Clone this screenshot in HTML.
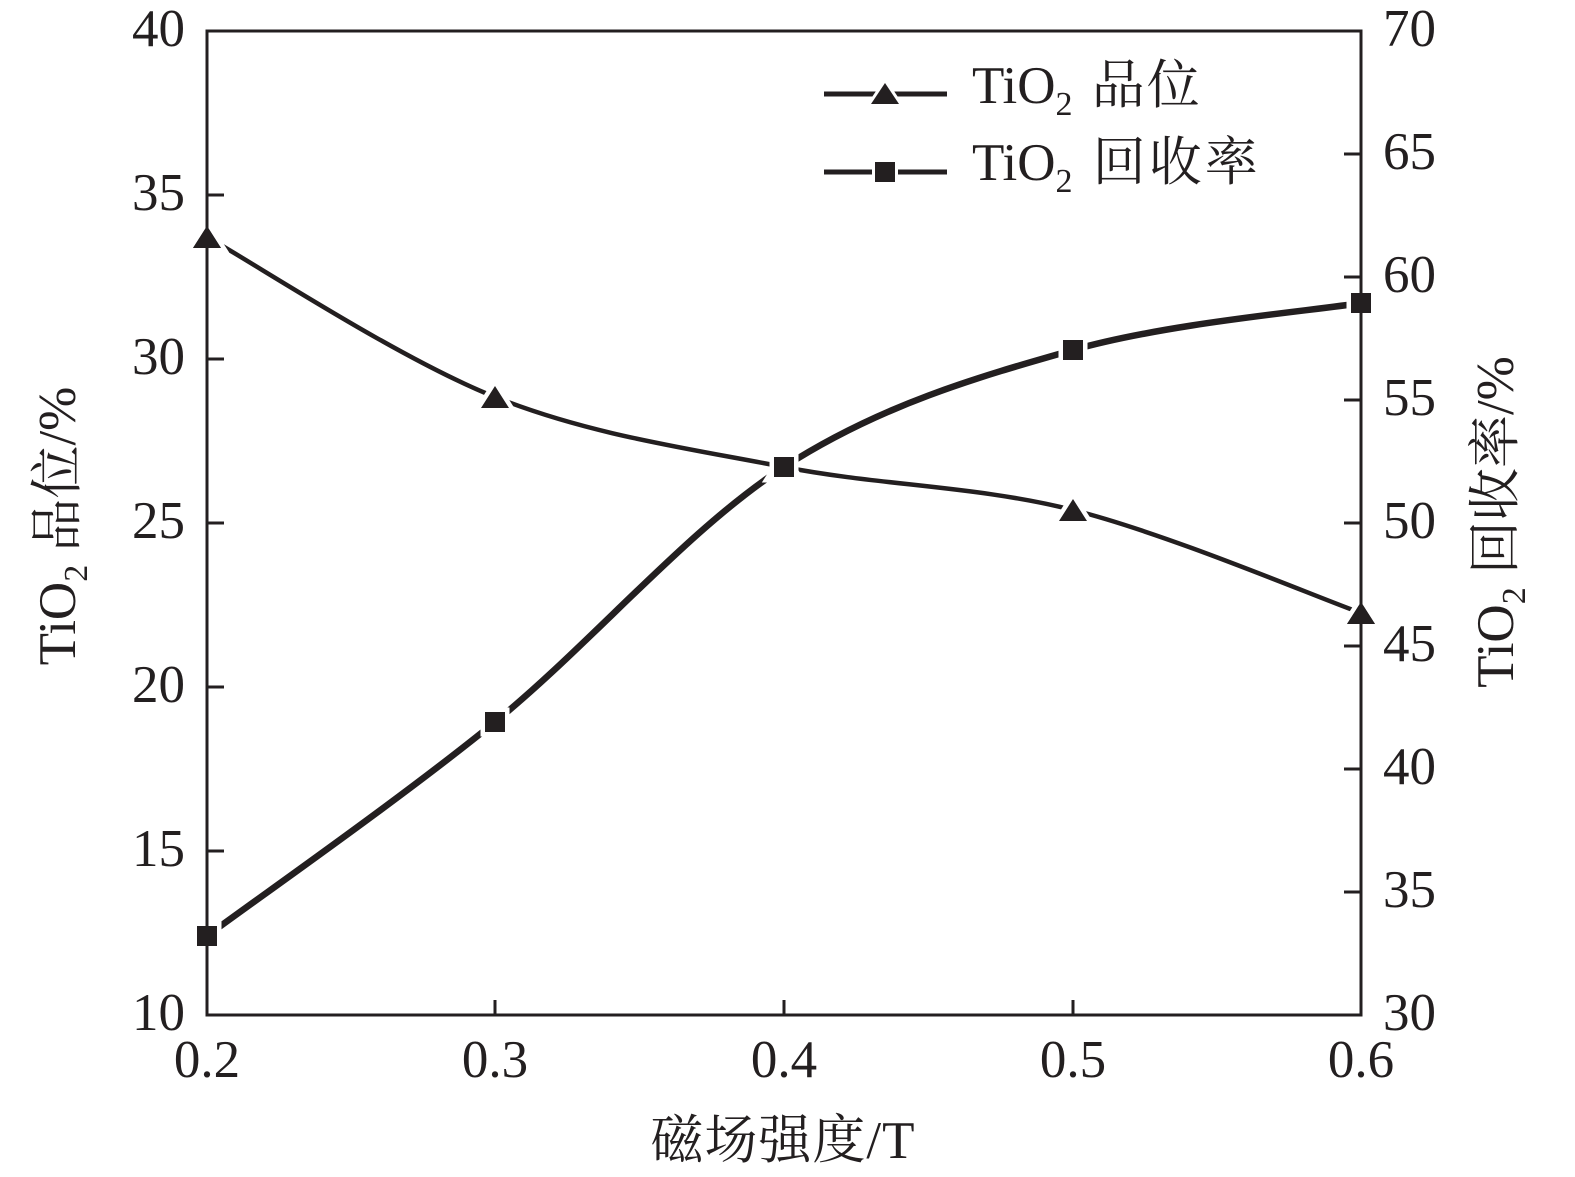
<!DOCTYPE html>
<html>
<head>
<meta charset="utf-8">
<style>
  html,body{margin:0;padding:0;background:#fff;}
  svg{display:block;}
  text{font-family:"Liberation Serif","Noto Serif CJK SC","Noto Sans CJK SC",serif;fill:#231f20;}
</style>
</head>
<body>
<svg width="1575" height="1177" viewBox="0 0 1575 1177" xmlns="http://www.w3.org/2000/svg">
  <rect x="0" y="0" width="1575" height="1177" fill="#fff"/>

  <!-- series curves -->
  <path d="M207,237 C255,263.7 398.8,358.7 495,397 C591.2,435.3 687.7,448.2 784,467 C880.3,485.8 976.8,485.7 1073,510 C1169.2,534.3 1313,595.8 1361,613"
        fill="none" stroke="#231f20" stroke-width="4.5"/>
  <path d="M207,936 C255,900.3 398.8,800.2 495,722 C591.2,643.8 687.7,529 784,467 C880.3,405 976.8,377.3 1073,350 C1169.2,322.7 1313,310.8 1361,303"
        fill="none" stroke="#231f20" stroke-width="6.5"/>

  <!-- axes box -->
  <rect x="207" y="31" width="1154" height="984" fill="none" stroke="#231f20" stroke-width="3"/>

  <g stroke="#231f20" stroke-width="3">
    <line x1="207" y1="195" x2="224" y2="195"/>
    <line x1="207" y1="359" x2="224" y2="359"/>
    <line x1="207" y1="523" x2="224" y2="523"/>
    <line x1="207" y1="687" x2="224" y2="687"/>
    <line x1="207" y1="851" x2="224" y2="851"/>
    <line x1="1344" y1="154" x2="1361" y2="154"/>
    <line x1="1344" y1="277" x2="1361" y2="277"/>
    <line x1="1344" y1="400" x2="1361" y2="400"/>
    <line x1="1344" y1="523" x2="1361" y2="523"/>
    <line x1="1344" y1="646" x2="1361" y2="646"/>
    <line x1="1344" y1="769" x2="1361" y2="769"/>
    <line x1="1344" y1="892" x2="1361" y2="892"/>
    <line x1="495" y1="1000" x2="495" y2="1015"/>
    <line x1="784" y1="1000" x2="784" y2="1015"/>
    <line x1="1073" y1="1000" x2="1073" y2="1015"/>
  </g>

  <g fill="#231f20" stroke="#fff" stroke-width="9" stroke-linejoin="miter" paint-order="stroke">
    <polygon points="207,226 221,248 193,248"/>
    <polygon points="495,386 509,408 481,408"/>
    <polygon points="784,456 798,478 770,478"/>
    <polygon points="1073,499 1087,521 1059,521"/>
    <polygon points="1361,602 1375,624 1347,624"/>
  </g>
  <g fill="#231f20" stroke="#fff" stroke-width="9" paint-order="stroke">
    <rect x="197" y="926" width="20" height="20"/>
    <rect x="485" y="712" width="20" height="20"/>
    <rect x="774" y="457" width="20" height="20"/>
    <rect x="1063" y="340" width="20" height="20"/>
    <rect x="1351" y="293" width="20" height="20"/>
  </g>
  <g stroke="#231f20" stroke-width="3">
    <line x1="207" y1="31" x2="207" y2="1015"/>
    <line x1="1361" y1="31" x2="1361" y2="1015"/>
  </g>
  <g fill="#231f20">
    <polygon points="207,226 221,248 193,248"/>
    <polygon points="1361,602 1375,624 1347,624"/>
    <rect x="197" y="926" width="20" height="20"/>
    <rect x="1351" y="293" width="20" height="20"/>
  </g>

  <g font-size="53" text-anchor="end">
    <text x="185" y="46">40</text>
    <text x="185" y="210">35</text>
    <text x="185" y="374">30</text>
    <text x="185" y="538">25</text>
    <text x="185" y="702">20</text>
    <text x="185" y="866">15</text>
    <text x="185" y="1030">10</text>
  </g>
  <g font-size="53" text-anchor="start">
    <text x="1383" y="46">70</text>
    <text x="1383" y="169">65</text>
    <text x="1383" y="292">60</text>
    <text x="1383" y="415">55</text>
    <text x="1383" y="538">50</text>
    <text x="1383" y="661">45</text>
    <text x="1383" y="784">40</text>
    <text x="1383" y="907">35</text>
    <text x="1383" y="1030">30</text>
  </g>
  <g font-size="53" text-anchor="middle">
    <text x="207" y="1077">0.2</text>
    <text x="495" y="1077">0.3</text>
    <text x="784" y="1077">0.4</text>
    <text x="1073" y="1077">0.5</text>
    <text x="1361" y="1077">0.6</text>
  </g>

  <text x="783" y="1158" font-size="53" text-anchor="middle" letter-spacing="1">磁场强度/T</text>

  <text transform="translate(75,526) rotate(-90)" font-size="53" text-anchor="middle">TiO<tspan font-size="34" dy="12">2</tspan><tspan dy="-12"> 品位/%</tspan></text>

  <text transform="translate(1513,522) rotate(-90)" font-size="53" text-anchor="middle">TiO<tspan font-size="34" dy="12">2</tspan><tspan dy="-12"> 回收率/%</tspan></text>

  <g stroke="#231f20" stroke-width="5">
    <line x1="824" y1="94" x2="947" y2="94"/>
    <line x1="824" y1="172" x2="947" y2="172"/>
  </g>
  <g fill="#231f20" stroke="#fff" stroke-width="6" paint-order="stroke">
    <polygon points="885,83 899,104 871,104"/>
    <rect x="875" y="162" width="20" height="20"/>
  </g>
  <text x="972" y="103" font-size="53">TiO<tspan font-size="34" dy="12">2</tspan><tspan dy="-12" dx="4" letter-spacing="2"> 品位</tspan></text>
  <text x="972" y="180" font-size="53">TiO<tspan font-size="34" dy="12">2</tspan><tspan dy="-12" dx="4" letter-spacing="3"> 回收率</tspan></text>
</svg>
</body>
</html>
